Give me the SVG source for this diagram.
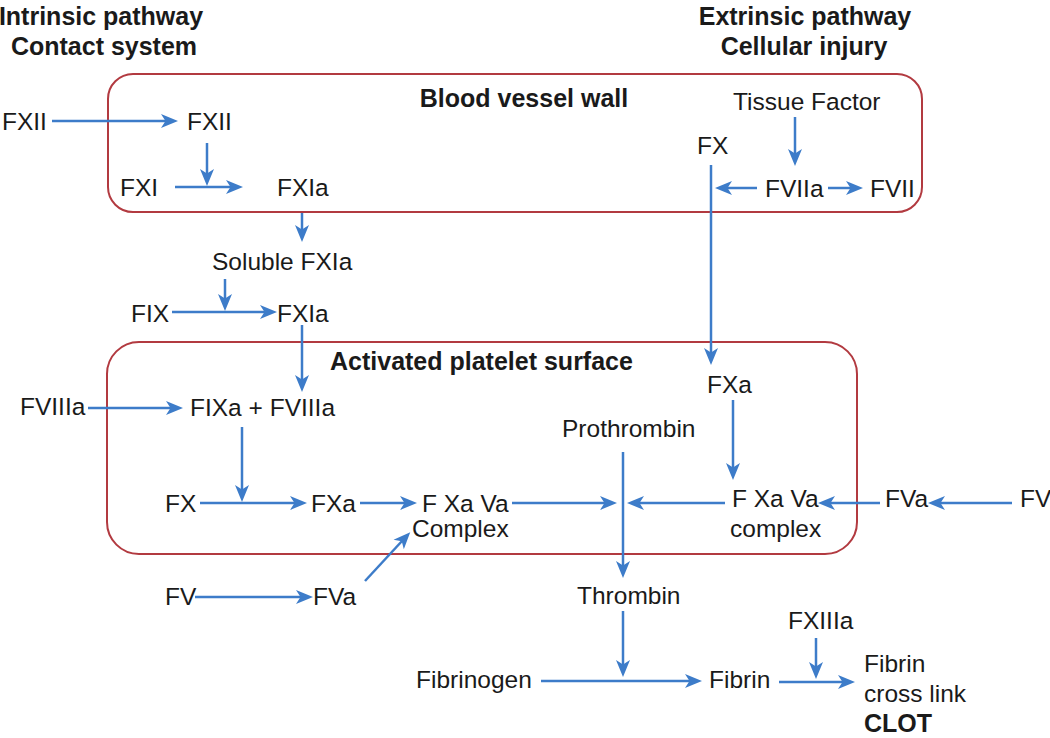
<svg xmlns="http://www.w3.org/2000/svg" width="1050" height="738" viewBox="0 0 1050 738">
<defs>
<marker id="ah" markerUnits="userSpaceOnUse" markerWidth="18" markerHeight="14" refX="9" refY="7" orient="auto" overflow="visible">
<path d="M0,0 L17,7 L0,14 L4.5,7 z" fill="#3d7cc9"/>
</marker>
</defs>
<style>
text{font-family:"Liberation Sans",Arial,Helvetica,sans-serif;font-size:24.5px;fill:#1a1a1a}
.b{font-weight:bold;font-size:25px}
.m{text-anchor:middle}
.box{fill:none;stroke:#b23a40;stroke-width:2}
.c line,.c path{stroke:#3d7cc9;stroke-width:2.5;fill:none}
.a{marker-end:url(#ah)}
</style>
<rect width="1050" height="738" fill="#ffffff"/>
<g id="headers">
<text class="b m" x="101" y="25">Intrinsic pathway</text>
<text class="b m" x="104" y="55">Contact system</text>
<text class="b m" x="805" y="25">Extrinsic pathway</text>
<text class="b m" x="804" y="55">Cellular injury</text>
</g>
<g id="vessel-wall">
<rect class="box" x="108" y="74" width="814" height="138" rx="25"/>
<text class="b m" x="524" y="107">Blood vessel wall</text>
</g>
<g id="platelet-surface">
<rect class="box" x="107" y="342" width="750" height="212" rx="32"/>
<text class="b" x="330" y="370">Activated platelet surface</text>
</g>
<g class="c" id="connectors">
<line class="a" x1="52" y1="121" x2="170" y2="121"/>
<line class="a" x1="207" y1="143" x2="207" y2="178"/>
<line class="a" x1="175" y1="187" x2="235" y2="187"/>
<line class="a" x1="302" y1="213" x2="302" y2="234"/>
<line class="a" x1="225" y1="279" x2="225" y2="303"/>
<line class="a" x1="172" y1="312" x2="269" y2="312"/>
<line class="a" x1="302" y1="325" x2="302" y2="384"/>
<line class="a" x1="88" y1="408" x2="175" y2="408"/>
<line class="a" x1="242" y1="427" x2="242" y2="494"/>
<line class="a" x1="200" y1="503" x2="299" y2="503"/>
<line class="a" x1="360" y1="503" x2="409" y2="503"/>
<line class="a" x1="512" y1="503" x2="609" y2="503"/>
<line class="a" x1="365" y1="581" x2="404.8" y2="538"/>
<line class="a" x1="195" y1="597" x2="305" y2="597"/>
<line class="a" x1="711" y1="165" x2="711" y2="357"/>
<line class="a" x1="733" y1="400" x2="733" y2="472"/>
<line class="a" x1="623" y1="452" x2="623" y2="570"/>
<line class="a" x1="725" y1="503" x2="635" y2="503"/>
<line class="a" x1="880" y1="503" x2="826" y2="503"/>
<line class="a" x1="1012" y1="503" x2="936" y2="503"/>
<line class="a" x1="795" y1="117" x2="795" y2="158"/>
<line class="a" x1="757" y1="188" x2="723" y2="188"/>
<line class="a" x1="828" y1="188" x2="855" y2="188"/>
<line class="a" x1="623" y1="611" x2="623" y2="669"/>
<line class="a" x1="541" y1="681" x2="694" y2="681"/>
<line class="a" x1="816" y1="638" x2="816" y2="671"/>
<line class="a" x1="779" y1="682" x2="847" y2="682"/>
</g>
<g id="n-fxii-out"><text x="2" y="130">FXII</text></g>
<g id="n-fxii"><text x="187" y="130">FXII</text></g>
<g id="n-fxi"><text x="120" y="196">FXI</text></g>
<g id="n-fxia1"><text x="277" y="196">FXIa</text></g>
<g id="n-soluble"><text x="212" y="270">Soluble FXIa</text></g>
<g id="n-fix"><text x="131" y="322">FIX</text></g>
<g id="n-fxia2"><text x="277" y="322">FXIa</text></g>
<g id="n-fviiia"><text x="20" y="415">FVIIIa</text></g>
<g id="n-tenase"><text x="190" y="416">FIXa + FVIIIa</text></g>
<g id="n-fx-left"><text x="165" y="512">FX</text></g>
<g id="n-fxa-left"><text x="311" y="512">FXa</text></g>
<g id="n-complex-left"><text x="422" y="512">F Xa Va</text><text x="412" y="537">Complex</text></g>
<g id="n-fv-left"><text x="165" y="605">FV</text></g>
<g id="n-fva-left"><text x="313" y="605">FVa</text></g>
<g id="n-tissue"><text x="733" y="110">Tissue Factor</text></g>
<g id="n-fx-right"><text x="697" y="154">FX</text></g>
<g id="n-fviia"><text x="765" y="197">FVIIa</text></g>
<g id="n-fvii"><text x="870" y="197">FVII</text></g>
<g id="n-fxa-right"><text x="707" y="393">FXa</text></g>
<g id="n-prothrombin"><text x="562" y="437">Prothrombin</text></g>
<g id="n-complex-right"><text x="732" y="507">F Xa Va</text><text x="730" y="537">complex</text></g>
<g id="n-fva-right"><text x="885" y="507">FVa</text></g>
<g id="n-fv-right"><text x="1020" y="507">FV</text></g>
<g id="n-thrombin"><text x="577" y="604">Thrombin</text></g>
<g id="n-fibrinogen"><text x="416" y="688">Fibrinogen</text></g>
<g id="n-fibrin"><text x="709" y="688">Fibrin</text></g>
<g id="n-fxiiia"><text x="788" y="629">FXIIIa</text></g>
<g id="n-clot"><text x="864" y="672">Fibrin</text><text x="864" y="702">cross link</text><text class="b" x="864" y="732">CLOT</text></g>
</svg>
